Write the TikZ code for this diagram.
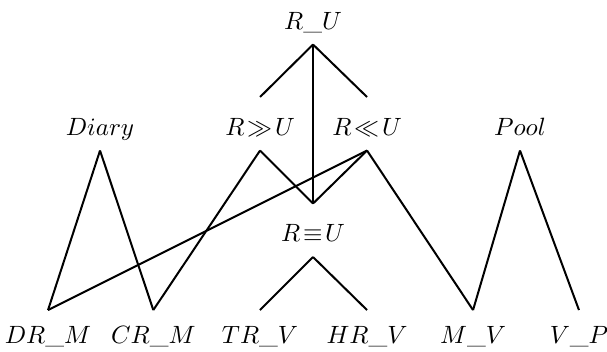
\documentclass[tikz,border=0pt]{standalone}
\usepackage{amsmath,amssymb}
\usepackage{tikz}
\usetikzlibrary{positioning}

\begin{document}
\begin{tikzpicture}[
    word/.style={inner sep=0pt, text height=15pt, text depth=6pt, anchor=base},
    leaf/.style={inner sep=0pt, text height=13pt, text depth=2pt, anchor=base},
    link/.style={thick}
]
\useasboundingbox (0,0) rectangle (8.532,4.934);

% Top
\node[word] (ru) at (4.40, 4.526) {$R\_U$};

% Middle row
\node[word] (diary) at (1.406, 3.036) {$Diary$};
\node[word] (rgg) at (3.655, 3.036) {$R\!\gg\!U$};
\node[word] (rll) at (5.159, 3.036) {$R\!\ll\!U$};
\node[word] (pool) at (7.309, 3.036) {$Pool$};
\node[word] (req) at (4.40, 1.539) {$R\!\equiv\!U$};

% Leaves
\node[leaf] (drm) at (0.675, 0.112) {$DR\_M$};
\node[leaf] (crm) at (2.155, 0.112) {$CR\_M$};
\node[leaf] (trv) at (3.655, 0.112) {$TR\_V$};
\node[leaf] (hrv) at (5.159, 0.112) {$HR\_V$};
\node[leaf] (mv) at (6.649, 0.112) {$M\_V$};
\node[leaf] (vp) at (8.138, 0.112) {$V\_P$};

% Links
\draw[link] (ru.south) -- (rgg.north);
\draw[link] (ru.south) -- (rll.north);
\draw[link] (ru.south) -- (req.north);
\draw[link] (diary.south) -- (drm.north);
\draw[link] (diary.south) -- (crm.north);
\draw[link] (rgg.south) -- (crm.north);
\draw[link] (rgg.south) -- (req.north);
\draw[link] (rll.south) -- (req.north);
\draw[link] (rll.south) -- (drm.north);
\draw[link] (rll.south) -- (mv.north);
\draw[link] (pool.south) -- (mv.north);
\draw[link] (pool.south) -- (vp.north);
\draw[link] (req.south) -- (trv.north);
\draw[link] (req.south) -- (hrv.north);

\end{tikzpicture}
\end{document}
